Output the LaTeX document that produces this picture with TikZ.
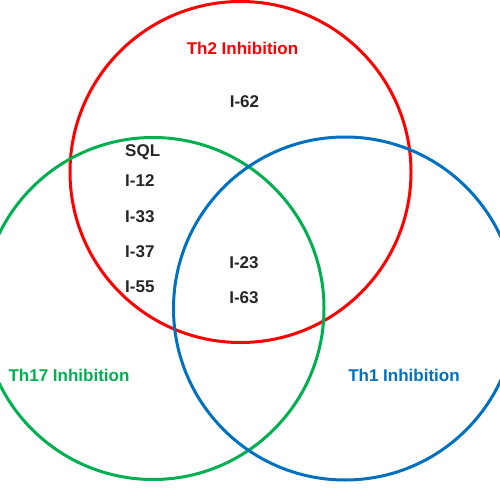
\documentclass[tikz,border=0pt]{standalone}
\usepackage{fontspec}
\setmainfont{Liberation Sans}
\definecolor{vred}{RGB}{255,0,0}
\definecolor{vgreen}{RGB}{0,176,80}
\definecolor{vblue}{RGB}{0,112,192}
\begin{document}
\begin{tikzpicture}[x=1pt,y=-1pt,
  ring/.style={line width=3pt},
  lbl/.style={font=\fontsize{17}{20}\selectfont\bfseries, inner sep=0pt},
  item/.style={font=\fontsize{17}{20}\selectfont\bfseries, inner sep=0pt, text=black!85}]
\useasboundingbox (0,0) rectangle (500,500);
\begin{scope}
\clip (0,0) rectangle (500,500);
\draw[ring, vred] (240.5,172) circle (170.5);
\draw[ring, vgreen] (153,308.5) circle (171);
\draw[ring, vblue] (345,308.5) circle (171.5);
\end{scope}
\node[lbl, text=vred] (th2) at (242.5,48.5) {Th2 Inhibition};
\node[lbl, text=vgreen] (th17) at (69,375) {Th17 Inhibition};
\node[lbl, text=vblue] (th1) at (404,375) {Th1 Inhibition};
\node[item] (i62) at (244.5,101.5) {I-62};
\node[item, anchor=west] (sql) at (125,152) {SQL};
\node[item, anchor=west] (i12) at (125,181) {I-12};
\node[item, anchor=west] (i33) at (125,216.5) {I-33};
\node[item, anchor=west] (i37) at (125,251.5) {I-37};
\node[item, anchor=west] (i55) at (125,286.5) {I-55};
\node[item] (i23) at (244,262.5) {I-23};
\node[item] (i63) at (244,297.5) {I-63};
\end{tikzpicture}
\end{document}
